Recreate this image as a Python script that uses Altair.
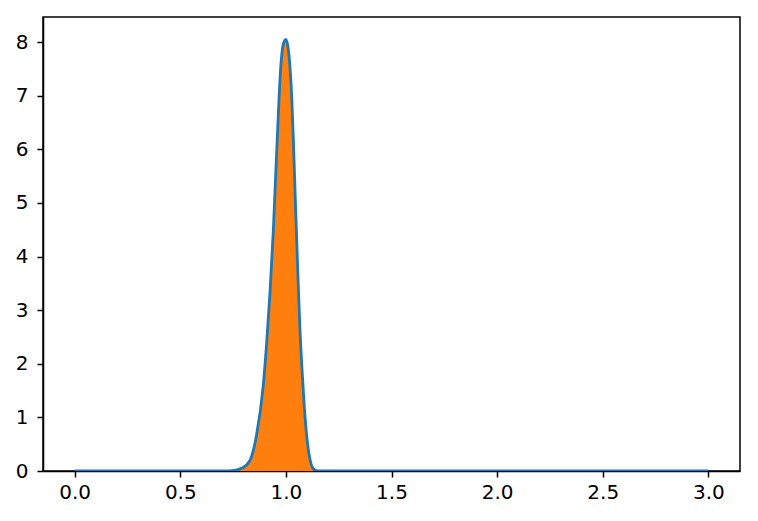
import altair as alt
import pandas as pd

# values
xs = [0.0, 0.70, 0.745, 0.79, 0.83, 0.86, 0.893, 0.91, 0.925, 0.94, 0.952, 0.963,
      0.975, 0.987, 1.0, 1.012, 1.02, 1.028, 1.036, 1.046, 1.056, 1.066, 1.077,
      1.088, 1.10, 1.115, 1.13, 1.15, 1.2, 3.0]
ys = [0, 0, 0.005, 0.05, 0.2, 0.65, 1.6, 2.45, 3.35, 4.45, 5.55, 6.55,
      7.5, 7.95, 8.05, 7.85, 7.5, 6.95, 6.1, 4.9, 3.76, 2.7, 1.85,
      1.15, 0.6, 0.2, 0.04, 0, 0, 0]
x_ticks = [0.0, 0.5, 1.0, 1.5, 2.0, 2.5, 3.0]
y_ticks = [0, 1, 2, 3, 4, 5, 6, 7, 8]

df = pd.DataFrame({"x": xs, "y": ys})

axis_style = dict(
    title=None, grid=False,
    domainColor="black", domainWidth=1.5,
    tickColor="black", tickWidth=1.5, tickSize=6,
    labelFont="DejaVu Sans", labelFontSize=20, labelColor="black",
)

xenc = alt.X("x:Q",
             scale=alt.Scale(domain=[-0.15, 3.15], nice=False, zero=False),
             axis=alt.Axis(values=x_ticks, format=".1f", labelPadding=5, **axis_style))
yenc = alt.Y("y:Q",
             scale=alt.Scale(domain=[0, 8.47], nice=False),
             axis=alt.Axis(values=y_ticks, format="d", labelPadding=9, **axis_style))

base = alt.Chart(df)
area = base.mark_area(color="#ff7f0e", interpolate="monotone", clip=True).encode(x=xenc, y=yenc)
line = base.mark_line(color="#1f77b4", strokeWidth=2.8, interpolate="monotone", clip=True).encode(x=xenc, y=yenc)

chart = alt.layer(area, line).properties(
    width=697, height=454,
    autosize=alt.AutoSizeParams(type="none"),
    padding={"left": 35, "top": 9, "right": 10, "bottom": 40},
    background="white",
).configure_view(
    stroke="black", strokeWidth=1.5
)

chart.save("out.html", embed_options={"renderer": "svg", "actions": False})
